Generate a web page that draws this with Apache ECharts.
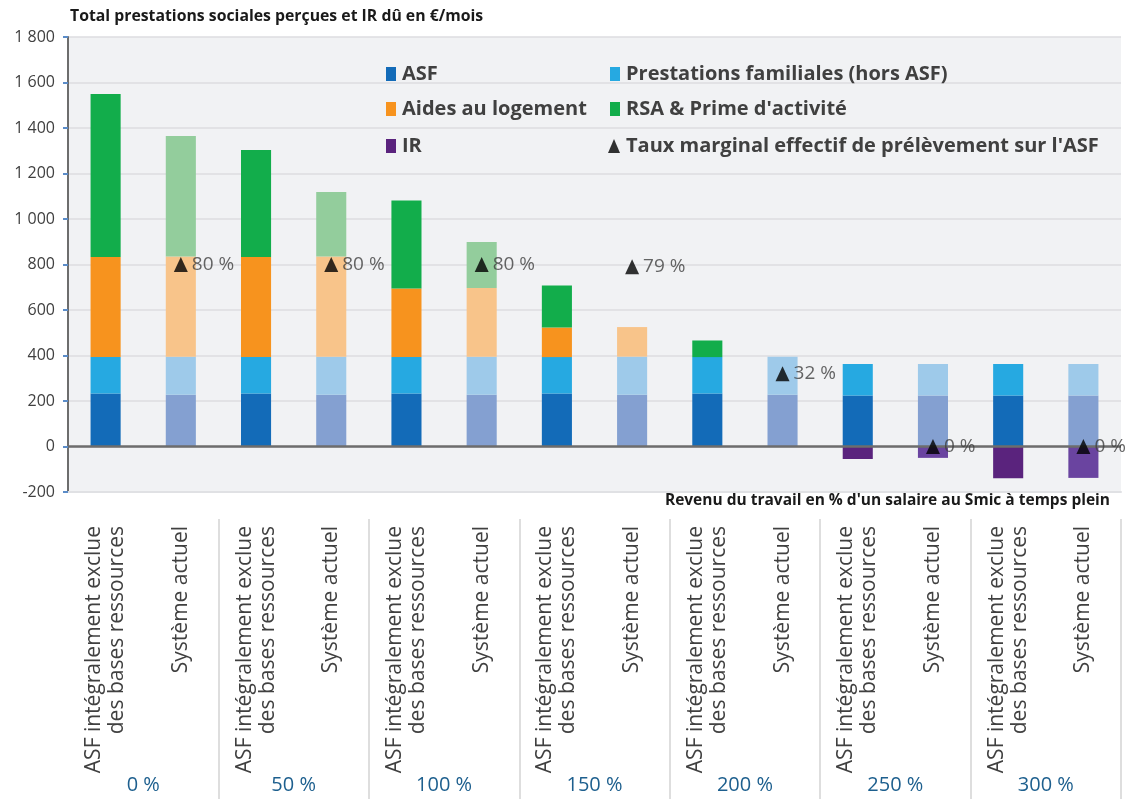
<!DOCTYPE html>
<html>
<head>
<meta charset="utf-8">
<script src="https://cdn.jsdelivr.net/npm/echarts@6/dist/echarts.min.js"></script>
<style>
  body { margin: 0; background: #ffffff; }
  #chart { width: 1130px; height: 799px; }
</style>
</head>
<body>
<div id="chart"></div>
<script>
// categories (two bars per income level)
var categories = [];
var groups = ['0 %', '50 %', '100 %', '150 %', '200 %', '250 %', '300 %'];
for (var g = 0; g < groups.length; g++) {
    categories.push('ASF intégralement exclue\ndes bases ressources');
    categories.push('Système actuel');
}

// values in €/mois
var asf      = [233, 228, 233, 228, 233, 228, 233, 228, 233, 228, 224, 224, 224, 224];
var prestFam = [160, 167, 160, 167, 160, 167, 160, 167, 160, 166, 139, 139, 139, 139];
var logement = [440, 440, 440, 440, 302, 302, 130, 130, 0, 0, 0, 0, 0, 0];
var rsa      = [717, 530, 470, 284, 386, 202, 185, 0, 73, 0, 0, 0, 0, 0];
var ir       = [0, 0, 0, 0, 0, 0, 0, 0, 0, 0, -55, -50, -140, -138];
// taux marginal effectif (%), plotted at taux x 10 on the € axis
var tauxMarginal = [null, 80, null, 80, null, 80, null, 79, null, 32, null, 0, null, 0];

var yTicks = [-200, 0, 200, 400, 600, 800, 1000, 1200, 1400, 1600, 1800];

// dark colour for the reform bars, light colour for "Système actuel"
function shade(values, dark, light) {
    var out = [];
    for (var i = 0; i < values.length; i++) {
        out.push({ value: values[i], itemStyle: { color: i % 2 == 0 ? dark : light } });
    }
    return out;
}

function barSeries(name, values, dark, light) {
    return {
        name: name,
        type: 'bar',
        stack: 'total',
        barWidth: '40%',
        itemStyle: { color: dark },
        data: shade(values, dark, light)
    };
}

var textCol = '#404040';
var fontFam = '"Open Sans", Lato, sans-serif';

var series = [
    barSeries('ASF', asf, '#136bb8', '#84a0d1'),
    barSeries('Prestations familiales (hors ASF)', prestFam, '#26a9e1', '#9ecaea'),
    barSeries('Aides au logement', logement, '#f7931e', '#f8c48a'),
    barSeries("RSA & Prime d'activité", rsa, '#12ad4b', '#93cd9c'),
    barSeries('IR', ir, '#5a237d', '#6a44a0')
];
// zero line drawn over the bars
series[0].markLine = {
    silent: true,
    symbol: 'none',
    label: { show: false },
    lineStyle: { color: '#6d6d6d', width: 2.5, type: 'solid' },
    data: [{ yAxis: 0 }],
    z: 5
};
series.push({
    name: "Taux marginal effectif de prélèvement sur l'ASF",
    type: 'scatter',
    symbol: 'triangle',
    symbolSize: [14, 15],
    itemStyle: { color: '#000000' },
    z: 10,
    data: tauxMarginal.map(function (t) { return t === null ? null : t * 10; }),
    label: {
        show: true,
        position: 'right',
        distance: 4,
        color: textCol,
        fontFamily: fontFam,
        fontSize: 19,
        formatter: function (p) { return tauxMarginal[p.dataIndex] + ' %'; }
    }
});

function legendAt(name, left, top, icon) {
    return {
        data: [{ name: name, icon: icon || 'rect' }],
        left: left,
        top: top,
        itemWidth: icon ? 12 : 10,
        itemHeight: 14,
        itemGap: 0,
        selectedMode: false,
        textStyle: { color: textCol, fontFamily: fontFam, fontSize: 20, fontWeight: 'bold', padding: [0, 0, 0, 1] }
    };
}

var option = {
    animation: false,
    backgroundColor: '#ffffff',
    textStyle: { fontFamily: fontFam },
    legend: [
        legendAt('ASF', 381, 59),
        legendAt('Aides au logement', 381, 94),
        legendAt('IR', 381, 131),
        legendAt('Prestations familiales (hors ASF)', 605, 59),
        legendAt("RSA & Prime d'activité", 605, 94),
        legendAt("Taux marginal effectif de prélèvement sur l'ASF", 603, 131, 'triangle')
    ],
    grid: {
        left: 68, right: 9, top: 37, bottom: 307,
        show: true, backgroundColor: '#f1f2f4', borderWidth: 0
    },
    graphic: [
        {
            type: 'text', left: 70, top: 8, z: 100,
            style: { text: 'Total prestations sociales perçues et IR dû en €/mois', fontFamily: fontFam, fontSize: 15.8, fontWeight: 'bold', fill: '#1a1a1a' }
        },
        {
            type: 'text', right: 20, top: 493, z: 100,
            style: { text: "Revenu du travail en % d'un salaire au Smic à temps plein", fontFamily: fontFam, fontSize: 15.5, fontWeight: 'bold', fill: '#1a1a1a' }
        }
    ],
    xAxis: [
        {
            type: 'category',
            data: categories,
            axisLine: { show: true, onZero: false, lineStyle: { color: '#e0e1e4', width: 2 } },
            axisTick: { show: false },
            axisLabel: {
                rotate: 90,
                interval: 0,
                margin: 34,
                color: textCol,
                fontFamily: fontFam,
                fontSize: 21,
                lineHeight: 23
            }
        },
        {
            type: 'category',
            data: groups,
            position: 'bottom',
            offset: 27,
            axisLine: { show: false, onZero: false },
            axisTick: {
                show: true,
                length: 285,
                interval: function (index) { return index > 0; },
                lineStyle: { color: '#d4d4d4', width: 1.5 }
            },
            axisLabel: {
                interval: 0,
                margin: 256,
                color: '#1d5f8e',
                fontFamily: fontFam,
                fontSize: 20
            }
        }
    ],
    yAxis: {
        type: 'value',
        min: yTicks[0],
        max: yTicks[yTicks.length - 1],
        interval: 200,
        axisLine: { show: true, lineStyle: { color: '#6d6d6d', width: 2 } },
        axisTick: { show: true, length: 5, lineStyle: { color: '#5b8cc8', width: 2 } },
        splitLine: { lineStyle: { color: '#dcdde0', width: 1.5 } },
        axisLabel: {
            color: textCol,
            fontFamily: fontFam,
            fontSize: 16,
            margin: 13,
            formatter: function (v) {
                var s = String(Math.abs(v));
                if (s.length > 3) s = s.slice(0, s.length - 3) + ' ' + s.slice(s.length - 3);
                return (v < 0 ? '-' : '') + s;
            }
        }
    },
    series: series
};

var chart = echarts.init(document.getElementById('chart'));
chart.setOption(option);
</script>
</body>
</html>
